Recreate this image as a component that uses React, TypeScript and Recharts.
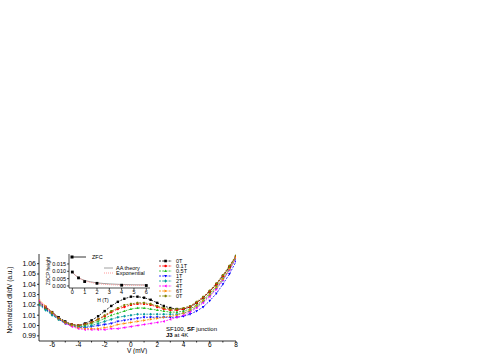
import React from "react";
import { LineChart, Line, XAxis, YAxis, ComposedChart, Scatter } from "recharts";

const V = [-7, -6.5, -6, -5.5, -5, -4.5, -4, -3.5, -3, -2.5, -2, -1.5, -1, -0.5, 0, 0.5, 1, 1.5, 2, 2.5, 3, 3.5, 4, 4.5, 5, 5.5, 6, 6.5, 7, 7.5, 8];
const s0T = [1.023, 1.018, 1.013, 1.008, 1.004, 1.001, 1.0, 1.002, 1.005, 1.009, 1.014, 1.019, 1.023, 1.026, 1.028, 1.028, 1.027, 1.025, 1.022, 1.019, 1.017, 1.016, 1.016, 1.018, 1.022, 1.027, 1.033, 1.04, 1.048, 1.057, 1.067];
const s01T = [1.022, 1.017, 1.012, 1.007, 1.003, 1.001, 1.0, 1.001, 1.003, 1.006, 1.009, 1.013, 1.016, 1.018, 1.02, 1.021, 1.021, 1.02, 1.018, 1.016, 1.015, 1.015, 1.016, 1.018, 1.022, 1.027, 1.033, 1.04, 1.048, 1.057, 1.067];
const s05T = [1.021, 1.016, 1.011, 1.006, 1.003, 1.0, 0.999, 1.0, 1.002, 1.004, 1.007, 1.01, 1.012, 1.014, 1.016, 1.017, 1.017, 1.016, 1.015, 1.014, 1.013, 1.013, 1.014, 1.016, 1.02, 1.025, 1.031, 1.038, 1.046, 1.056, 1.066];
const s1T = [1.021, 1.016, 1.011, 1.006, 1.002, 1.0, 0.998, 0.998, 0.999, 1.0, 1.001, 1.002, 1.004, 1.005, 1.006, 1.007, 1.008, 1.008, 1.008, 1.008, 1.008, 1.008, 1.009, 1.011, 1.014, 1.018, 1.024, 1.031, 1.04, 1.05, 1.062];
const s2T = [1.02, 1.015, 1.01, 1.006, 1.002, 1.0, 0.999, 0.999, 1.0, 1.002, 1.004, 1.006, 1.008, 1.009, 1.01, 1.011, 1.011, 1.011, 1.011, 1.011, 1.011, 1.011, 1.012, 1.014, 1.018, 1.023, 1.029, 1.036, 1.044, 1.054, 1.065];
const s4T = [1.024, 1.018, 1.012, 1.007, 1.002, 0.999, 0.997, 0.996, 0.996, 0.996, 0.996, 0.997, 0.997, 0.998, 0.999, 1.0, 1.001, 1.002, 1.003, 1.004, 1.006, 1.008, 1.01, 1.013, 1.017, 1.022, 1.028, 1.035, 1.044, 1.054, 1.065];
const s6T = [1.025, 1.019, 1.013, 1.007, 1.003, 1.0, 0.998, 0.997, 0.997, 0.997, 0.998, 0.999, 1.001, 1.002, 1.003, 1.004, 1.005, 1.006, 1.007, 1.008, 1.009, 1.01, 1.012, 1.015, 1.019, 1.024, 1.03, 1.037, 1.045, 1.055, 1.066];
const s0Tb = [1.022, 1.017, 1.012, 1.007, 1.003, 1.001, 1.0, 1.001, 1.003, 1.006, 1.01, 1.014, 1.017, 1.02, 1.021, 1.022, 1.022, 1.021, 1.019, 1.017, 1.016, 1.016, 1.017, 1.019, 1.023, 1.028, 1.034, 1.041, 1.049, 1.058, 1.068];

const seriesNames = ["0T", "0.1T", "0.5T", "1T", "2T", "4T", "6T", "0T"];
const seriesColors = ["#000000", "#ff0000", "#22bb22", "#0000ff", "#009a9a", "#ff00ff", "#ff8800", "#808000"];
const seriesShapes = ["square", "circle", "triUp", "triDown", "diamond", "triLeft", "triRight", "hex"];
const seriesValues = [s0T, s01T, s05T, s1T, s2T, s4T, s6T, s0Tb];

const xTicks = [-6, -5, -4, -3, -2, -1, 0, 1, 2, 3, 4, 5, 6, 7, 8];
const yTicks = [0.99, 1.0, 1.01, 1.02, 1.03, 1.04, 1.05, 1.06];

const hZfc = [0, 0.5, 1, 2, 4, 6];
const zfc = [0.0095, 0.0055, 0.003, 0.0018, 0.0005, 0.0003];
const hFit = [0, 0.25, 0.5, 0.75, 1, 1.5, 2, 2.5, 3, 4, 5, 6];
const aaFit = [0.0093, 0.0072, 0.0057, 0.0046, 0.0038, 0.0028, 0.0021, 0.0017, 0.0014, 0.001, 0.0008, 0.0007];
const expFit = [0.0095, 0.0073, 0.0057, 0.0045, 0.0036, 0.0024, 0.0017, 0.0012, 0.0009, 0.0006, 0.0005, 0.0005];
const insetXTicks = [0, 1, 2, 3, 4, 5, 6];
const insetYTicks = [0, 0.005, 0.01, 0.015];

const FONT = "'Liberation Sans', Arial, sans-serif";

const data = V.map((v, i) => {
  const row: any = { v };
  seriesValues.forEach((s, k) => (row["s" + k] = s[i]));
  return row;
});
const zfcData = hZfc.map((h, i) => ({ h, y: zfc[i] }));
const aaData = hFit.map((h, i) => ({ h, y: aaFit[i] }));
const expData = hFit.map((h, i) => ({ h, y: expFit[i] }));

function Marker({ shape, cx, cy, color, r = 1.5 }: any) {
  if (cx == null || cy == null || isNaN(cx) || isNaN(cy)) return null;
  const p = (pts: number[][]) => pts.map((q) => `${cx + q[0] * r},${cy + q[1] * r}`).join(" ");
  switch (shape) {
    case "square":
      return <rect x={cx - r} y={cy - r} width={2 * r} height={2 * r} fill={color} />;
    case "circle":
      return <circle cx={cx} cy={cy} r={r} fill={color} />;
    case "triUp":
      return <polygon points={p([[0, -1.2], [1.1, 0.8], [-1.1, 0.8]])} fill={color} />;
    case "triDown":
      return <polygon points={p([[0, 1.2], [1.1, -0.8], [-1.1, -0.8]])} fill={color} />;
    case "diamond":
      return <polygon points={p([[0, -1.3], [1.1, 0], [0, 1.3], [-1.1, 0]])} fill={color} />;
    case "triLeft":
      return <polygon points={p([[-1.2, 0], [0.8, -1.1], [0.8, 1.1]])} fill={color} />;
    case "triRight":
      return <polygon points={p([[1.2, 0], [-0.8, -1.1], [-0.8, 1.1]])} fill={color} />;
    default:
      return <polygon points={p([[1, 0], [0.5, 0.87], [-0.5, 0.87], [-1, 0], [-0.5, -0.87], [0.5, -0.87]])} fill={color} />;
  }
}

function MainLegend({ x, y }: any) {
  return (
    <g transform={`translate(${x}, ${y})`}>
      {seriesNames.map((n, i) => (
        <g key={i} transform={`translate(0, ${i * 5})`}>
          <line x1={0} x2={13} y1={0} y2={0} stroke={seriesColors[i]} strokeWidth={0.8} strokeDasharray="2 1.2" />
          <Marker shape={seriesShapes[i]} cx={6.5} cy={0} color={seriesColors[i]} r={1.3} />
          <text x={17} y={2} fontSize={5.5} fontFamily={FONT} fill="#000">{n}</text>
        </g>
      ))}
    </g>
  );
}

function InsetLegend({ x, y }: any) {
  return (
    <g transform={`translate(${x}, ${y})`}>
      <line x1={0} x2={14} y1={2} y2={2} stroke="#000" strokeWidth={0.8} />
      <rect x={-1.5} y={0.5} width={3} height={3} fill="#000" />
      <text x={20} y={4} fontSize={5.5} fontFamily={FONT} fill="#000">ZFC</text>
      <line x1={32} x2={41} y1={13} y2={13} stroke="#888" strokeWidth={0.8} />
      <text x={44} y={15} fontSize={5.5} fontFamily={FONT} fill="#000">AA theory</text>
      <line x1={32} x2={41} y1={18} y2={18} stroke="#ff9999" strokeWidth={1} strokeDasharray="1 1" />
      <text x={44} y={20} fontSize={5.5} fontFamily={FONT} fill="#000">Exponential</text>
    </g>
  );
}

export default function App() {
  return (
    <div style={{ position: "absolute", left: 0, top: 0, width: 491, height: 354, background: "#fff", fontFamily: FONT }}>
      <div style={{ position: "absolute", left: 0, top: 0 }}>
        <LineChart width={491} height={354} data={data} margin={{ top: 254, right: 255, bottom: 0, left: 0 }}>
          <XAxis dataKey="v" type="number" domain={[-7, 8]} ticks={xTicks} allowDataOverflow height={13}
            tickFormatter={(t: number) => (t % 2 === 0 ? String(t) : "")}
            tick={{ fontSize: 6.5, fill: "#000", fontFamily: FONT }} tickSize={1.5} tickMargin={0}
            stroke="#000" strokeWidth={0.8} interval={0} />
          <XAxis xAxisId="top" orientation="top" type="number" domain={[-7, 8]} height={0} tick={false} tickLine={false} stroke="#000" strokeWidth={0.8} />
          <YAxis type="number" domain={[0.985, 1.0694]} ticks={yTicks} allowDataOverflow width={39}
            tickFormatter={(t: number) => t.toFixed(2)}
            tick={{ fontSize: 7, fill: "#000", fontFamily: FONT }} tickSize={2} tickMargin={1}
            stroke="#000" strokeWidth={0.8} interval={0} />
          <YAxis yAxisId="right" orientation="right" type="number" domain={[0.985, 1.0694]} width={0} tick={false} tickLine={false} stroke="#000" strokeWidth={0.8} />
          {seriesNames.map((n, k) => (
            <Line key={k} dataKey={"s" + k} name={n} stroke={seriesColors[k]} strokeWidth={0.8} strokeDasharray="2 1.2"
              isAnimationActive={false} type="linear"
              dot={(props: any) => <Marker key={props.index} shape={seriesShapes[k]} cx={props.cx} cy={props.cy} color={seriesColors[k]} r={1.2} />} />
          ))}
        </LineChart>
      </div>
      <div style={{ position: "absolute", left: 0, top: 0 }}>
        <ComposedChart width={491} height={354} margin={{ top: 254, right: 341, bottom: 0, left: 0 }}>
          <XAxis dataKey="h" type="number" domain={[-0.27, 6.3]} ticks={insetXTicks} allowDataOverflow height={66}
            tick={{ fontSize: 5.5, fill: "#000", fontFamily: FONT }} tickSize={2} tickMargin={0}
            stroke="#000" strokeWidth={0.7} interval={0} />
          <YAxis dataKey="y" type="number" domain={[-0.0014, 0.0218]} ticks={insetYTicks} allowDataOverflow width={69}
            tickFormatter={(t: number) => t.toFixed(3)}
            tick={{ fontSize: 5.5, fill: "#000", fontFamily: FONT }} tickSize={2} tickMargin={1}
            stroke="#000" strokeWidth={0.7} interval={0} />
          <Line data={aaData} dataKey="y" stroke="#888" strokeWidth={0.8} dot={false} isAnimationActive={false} type="monotone" />
          <Line data={expData} dataKey="y" stroke="#ff9999" strokeWidth={1} strokeDasharray="1 1" dot={false} isAnimationActive={false} type="monotone" />
          <Scatter data={zfcData} dataKey="y" fill="#000" isAnimationActive={false}
            shape={(props: any) => <Marker shape="square" cx={props.cx} cy={props.cy} color="#000" r={1.4} />} />
        </ComposedChart>
      </div>
      <svg width={491} height={354} style={{ position: "absolute", left: 0, top: 0, pointerEvents: "none" }}>
        <MainLegend x={159} y={261} />
        <InsetLegend x={72} y={255} />
        <text transform="translate(12, 300) rotate(-90)" textAnchor="middle" fontSize={6.5} fontFamily={FONT} fill="#000">Normalized dI/dV (a.u.)</text>
        <text x={137} y={353} textAnchor="middle" fontSize={6.5} fontFamily={FONT} fill="#000">V (mV)</text>
        <text transform="translate(50, 271) rotate(-90)" textAnchor="middle" fontSize={5} fontFamily={FONT} fill="#000">ZBCP height</text>
        <text x={103} y={302} textAnchor="middle" fontSize={5} fontFamily={FONT} fill="#000">H (T)</text>
        <text x={166} y={331} fontSize={6} fontFamily={FONT} fill="#000">SF100, <tspan fontWeight="bold">SF</tspan> junction</text>
        <text x={166} y={337} fontSize={6} fontFamily={FONT} fill="#000"><tspan fontWeight="bold">J3</tspan> at 4K</text>
      </svg>
    </div>
  );
}
